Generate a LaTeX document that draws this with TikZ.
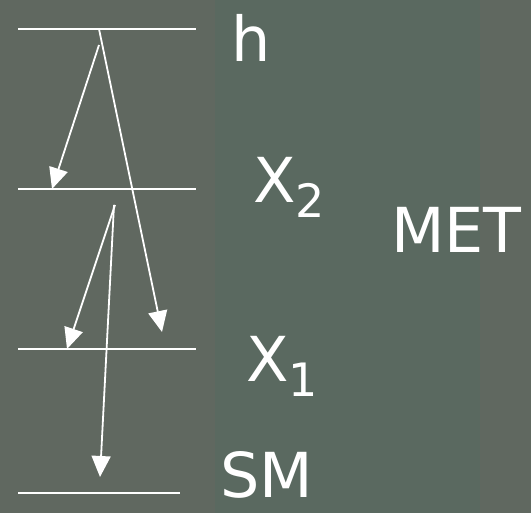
\documentclass[tikz,border=0pt]{standalone}
\usepackage{fontspec}
\setmainfont{DejaVu Sans}
\usetikzlibrary{arrows.meta}

\definecolor{board}{RGB}{96,104,96}
\definecolor{boardgreen}{RGB}{90,105,96}

\tikzset{
	level/.style={white, line width=1.8pt},
	decay/.style={white, line width=1.8pt, -{Triangle[length=21pt,width=19pt]}},
	lbl/.style={text=white, inner sep=0pt, anchor=base west, font=\fontsize{62}{62}\selectfont}
}
\newcommand{\subidx}[1]{\raisebox{-15pt}{\fontsize{46}{46}\selectfont #1}}

\begin{document}
\begin{tikzpicture}[x=1pt,y=-1pt]
	\useasboundingbox (0,0) rectangle (531,513);
	\fill[board] (0,0) rectangle (531,513);
	\fill[boardgreen] (215,0) rectangle (480,513);
	% levels
	\draw[level] (18,29) -- (196,29);
	\draw[level] (18,189) -- (196,189);
	\draw[level] (18,349) -- (196,349);
	\draw[level] (18,493) -- (180,493);
	% end points of the decays
	\coordinate (hA) at (99,29);
	\coordinate (hB) at (99,45);
	\coordinate (xA) at (115,205);
	\coordinate (xB) at (114,205);
	\coordinate (tX2) at (52,189);
	\coordinate (tX1a) at (67,349);
	\coordinate (tX1b) at (162,332);
	\coordinate (tSM) at (100,477);
	\draw[decay] (hA) -- (tX1b);
	\draw[decay] (hB) -- (tX2);
	\draw[decay] (xA) -- (tX1a);
	\draw[decay] (xB) -- (tSM);
	% labels
	\node[lbl] (h) at (231,62) {h};
	\node[lbl] (x2) at (253,203) {X\subidx{2}};
	\node[lbl] (x1) at (246,382) {X\subidx{1}};
	\node[lbl] (sm) at (220,498) {SM};
	\node[lbl] (met) at (391,253) {MET};
\end{tikzpicture}
\end{document}
